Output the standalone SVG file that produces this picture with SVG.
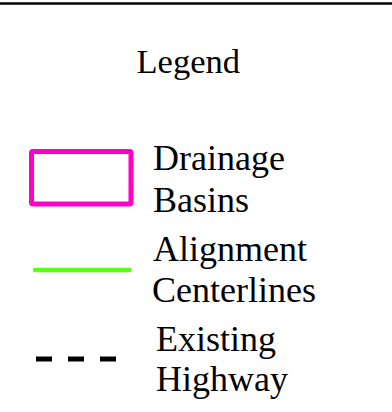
<svg xmlns="http://www.w3.org/2000/svg" width="392" height="412" viewBox="0 0 392 412">
<style>
text{font-family:"Liberation Serif","Times New Roman",serif;font-size:36px;fill:#000}
#title text{font-size:34.5px}
</style>
<rect x="0" y="0" width="392" height="412" fill="#fff"/>
<line x1="0" y1="3.5" x2="392" y2="3.5" stroke="#000" stroke-width="2.5"/>
<g id="title"><text x="136.5" y="72.5">Legend</text></g>
<g id="drainage">
<rect x="31.5" y="151.5" width="99.5" height="52.5" rx="1.5" fill="none" stroke="#ff00c8" stroke-width="5"/>
<text x="153" y="169.5">Drainage</text>
<text x="153" y="212">Basins</text>
</g>
<g id="alignment">
<line x1="35" y1="270" x2="129.5" y2="270" stroke="#5aff14" stroke-width="4.6" stroke-linecap="round"/>
<text x="153" y="261">Alignment</text>
<text x="152" y="302">Centerlines</text>
</g>
<g id="highway">
<line x1="36" y1="359" x2="116" y2="359" stroke="#000" stroke-width="5" stroke-dasharray="16 16"/>
<text x="156" y="351">Existing</text>
<text x="156" y="391">Highway</text>
</g>
</svg>
